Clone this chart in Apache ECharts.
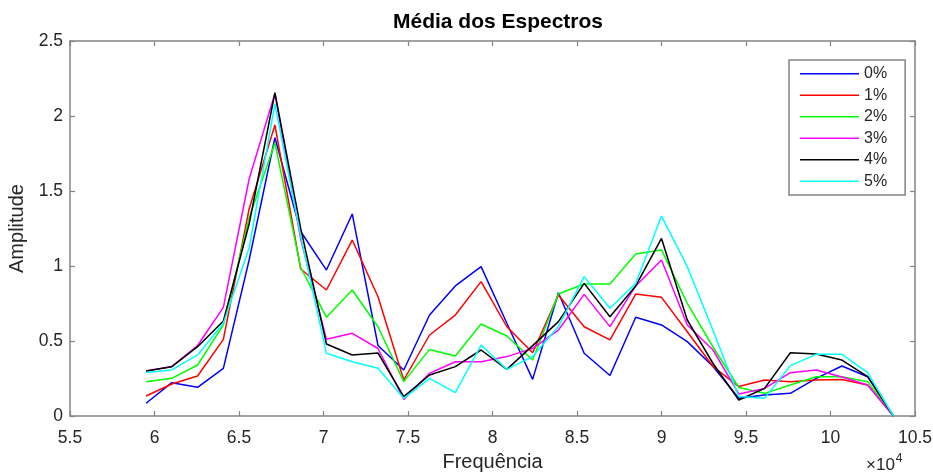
<!DOCTYPE html>
<html>
<head>
<meta charset="utf-8">
<script src="https://cdn.jsdelivr.net/npm/echarts@6/dist/echarts.min.js"></script>
<style>
  html, body { margin: 0; padding: 0; background: #fff; }
  #chart { width: 933px; height: 473px; }
</style>
</head>
<body>
<div id="chart"></div>
<script>
// Frequency bins (Hz)
const frequencies = [
  59500, 61025, 62550, 64075, 65600, 67125, 68650, 70175, 71700, 73225,
  74750, 76275, 77800, 79325, 80850, 82375, 83900, 85425, 86950, 88475,
  90000, 91525, 93050, 94575, 96100, 97625, 99150, 100675, 102200, 103725
];

// Mean spectrum amplitude for each level
const amp0 = [0.085, 0.222, 0.191, 0.318, 1.04, 1.855, 1.23, 0.973, 1.347, 0.47,
              0.307, 0.673, 0.867, 0.996, 0.618, 0.244, 0.822, 0.418, 0.27, 0.658,
              0.607, 0.496, 0.33, 0.118, 0.14, 0.151, 0.251, 0.333, 0.262, 0.0];
const amp1 = [0.133, 0.213, 0.267, 0.511, 1.38, 1.94, 0.98, 0.84, 1.173, 0.795,
              0.24, 0.54, 0.673, 0.896, 0.595, 0.422, 0.807, 0.595, 0.507, 0.813,
              0.791, 0.562, 0.33, 0.196, 0.24, 0.229, 0.24, 0.244, 0.207, 0.0];
const amp2 = [0.229, 0.251, 0.34, 0.607, 1.32, 1.82, 0.99, 0.658, 0.84, 0.595,
              0.229, 0.444, 0.40, 0.613, 0.533, 0.373, 0.813, 0.88, 0.88, 1.08,
              1.107, 0.751, 0.46, 0.19, 0.151, 0.207, 0.262, 0.262, 0.229, 0.0];
const amp3 = [0.30, 0.33, 0.47, 0.724, 1.58, 2.15, 1.18, 0.511, 0.551, 0.45,
              0.111, 0.284, 0.362, 0.362, 0.396, 0.451, 0.573, 0.811, 0.596, 0.867,
              1.04, 0.607, 0.44, 0.147, 0.184, 0.289, 0.307, 0.26, 0.207, 0.0];
const amp4 = [0.30, 0.329, 0.462, 0.633, 1.28, 2.155, 1.25, 0.48, 0.407, 0.42,
              0.129, 0.273, 0.329, 0.44, 0.311, 0.469, 0.629, 0.884, 0.662, 0.867,
              1.184, 0.64, 0.35, 0.107, 0.184, 0.422, 0.413, 0.373, 0.262, 0.0];
const amp5 = [0.29, 0.307, 0.407, 0.618, 1.12, 2.08, 1.2, 0.418, 0.362, 0.318,
              0.118, 0.251, 0.156, 0.473, 0.311, 0.396, 0.596, 0.929, 0.718, 0.884,
              1.333, 0.996, 0.57, 0.13, 0.118, 0.336, 0.411, 0.411, 0.289, 0.0];

const seriesNames = ['0%', '1%', '2%', '3%', '4%', '5%'];
const seriesData = [amp0, amp1, amp2, amp3, amp4, amp5];
const seriesColors = ['#0000ff', '#ff0000', '#00ff00', '#ff00ff', '#000000', '#00ffff'];

const axisGray = '#848484';
const textGray = '#262626';
const fontFam = '"Liberation Sans", Arial, Helvetica, sans-serif';

const chart = echarts.init(document.getElementById('chart'));

const baseX = {
  type: 'value', min: 55000, max: 105000, interval: 5000,
  axisLine: { show: true, onZero: false, lineStyle: { color: axisGray, width: 1.5 } },
  axisTick: { show: true, inside: true, length: 5, lineStyle: { color: axisGray, width: 1.2 } },
  splitLine: { show: false }
};
const baseY = {
  type: 'value', min: 0, max: 2.5, interval: 0.5,
  axisLine: { show: true, onZero: false, lineStyle: { color: axisGray, width: 1.5 } },
  axisTick: { show: true, inside: true, length: 5, lineStyle: { color: axisGray, width: 1.2 } },
  splitLine: { show: false }
};

chart.setOption({
  animation: false,
  backgroundColor: '#ffffff',
  title: {
    text: 'Média dos Espectros',
    left: 493, top: 7, textAlign: 'center',
    textStyle: { fontFamily: fontFam, fontSize: 21, fontWeight: 'bold', color: '#000' }
  },
  grid: { left: 70, right: 18, top: 41, bottom: 57, outerBoundsMode: 'none', containLabel: false },
  legend: {
    orient: 'vertical',
    left: 789, top: 60,
    padding: [3, 18, 3, 11],
    borderColor: axisGray, borderWidth: 1.5,
    backgroundColor: '#fff',
    icon: 'rect',
    itemWidth: 59, itemHeight: 1.6, itemGap: 0,
    textStyle: { fontFamily: fontFam, fontSize: 16, color: textGray, lineHeight: 21.5 },
    data: seriesNames
  },
  xAxis: [
    Object.assign({}, baseX, {
      position: 'bottom',
      name: 'Frequência', nameLocation: 'middle', nameGap: 36,
      nameTextStyle: { fontFamily: fontFam, fontSize: 20, color: textGray },
      axisLabel: {
        show: true, margin: 13, fontFamily: fontFam, fontSize: 17.5, color: textGray,
        formatter: v => String(+(v / 10000).toFixed(1))
      }
    }),
    Object.assign({}, baseX, { position: 'top', axisLabel: { show: false } })
  ],
  yAxis: [
    Object.assign({}, baseY, {
      position: 'left',
      name: 'Amplitude', nameLocation: 'middle', nameGap: 34,
      nameTextStyle: { fontFamily: fontFam, fontSize: 20, color: textGray },
      axisLabel: { show: true, margin: 7, fontFamily: fontFam, fontSize: 17.5, color: textGray }
    }),
    Object.assign({}, baseY, { position: 'right', axisLabel: { show: false } })
  ],
  graphic: [{
    type: 'text',
    left: 866, top: 453,
    style: {
      text: '{a|×10}{b|4}',
      rich: {
        a: { fontFamily: fontFam, fontSize: 17, fill: textGray, verticalAlign: 'bottom' },
        b: { fontFamily: fontFam, fontSize: 12, fill: textGray, verticalAlign: 'top', padding: [0, 0, 9, 1] }
      }
    }
  }],
  series: seriesNames.map((name, k) => ({
    name: name,
    type: 'line',
    symbol: 'none',
    xAxisIndex: 0, yAxisIndex: 0,
    color: seriesColors[k],
    lineStyle: { color: seriesColors[k], width: 1.5 },
    data: frequencies.map((f, i) => [f, seriesData[k][i]])
  }))
});
</script>
</body>
</html>
